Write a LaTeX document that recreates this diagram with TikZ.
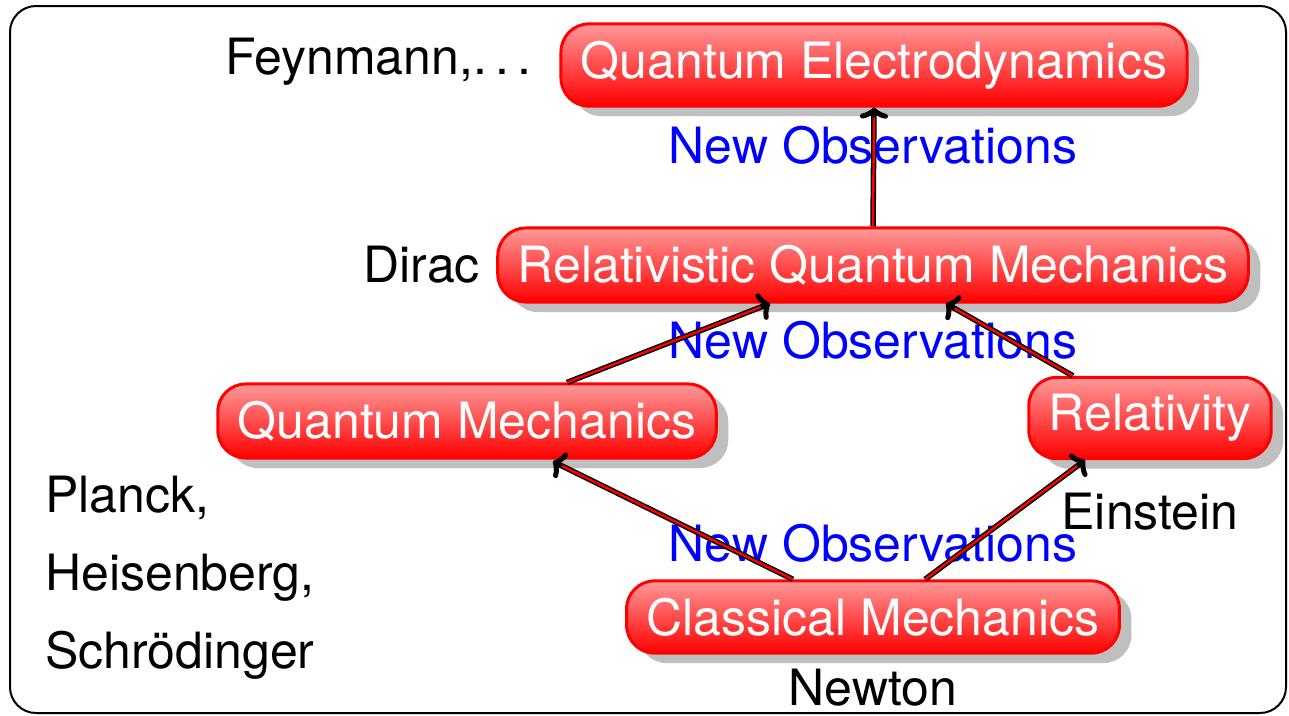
\documentclass[tikz,border=0pt]{standalone}
\usepackage{fontspec}
\setmainfont{TeX Gyre Heros}
\usetikzlibrary{arrows.meta,shadows,calc}
\begin{document}
\begin{tikzpicture}[x=1pt,y=-1pt,
  every node/.style={font=\fontsize{50}{78}\selectfont},
  box/.style={draw=red, line width=3pt, rounded corners=28pt,
    top color=red!40, middle color=red!85, bottom color=red,
    text=white, inner xsep=20pt, inner ysep=17pt,
    drop shadow={shadow xshift=12pt, shadow yshift=-10pt, opacity=1, fill=gray!50}},
  lbl/.style={text=black, inner sep=0pt},
  obs/.style={text=blue, inner sep=0pt},
  arr/.style={draw=black, line width=5.5pt,
    -{Classical TikZ Rightarrow[length=11pt,width=28pt,line width=5pt,round]},
    postaction={draw=red, line width=2.4pt, -, shorten >=10pt}}
]
\useasboundingbox (0,0) rectangle (1289,715);
\draw[line width=2pt, rounded corners=26pt] (10,6) rectangle (1286,713);

\node[box] (qed) at (874,65) {Quantum Electrodynamics};
\node[box] (rqm) at (873,265) {Relativistic Quantum Mechanics};
\node[box] (qm) at (467,421) {Quantum Mechanics};
\node[box] (rel) at (1150,418) {Relativity};
\node[box] (cm) at (873,617) {Classical Mechanics};

\node[lbl, anchor=east] (feyn) at (532,62) {Feynmann,.\hspace{0.17em}.\hspace{0.17em}.};
\node[lbl, anchor=east] (dirac) at (480,265) {Dirac};
\node[lbl] (einstein) at (1150,512) {Einstein};
\node[lbl] (newton) at (873,688) {Newton};
\node[lbl, anchor=west, align=left] (planck) at (45,578) {Planck,\\Heisenberg,\\Schrödinger};

\node[obs] (o1) at (873,145) {New Observations};
\node[obs] (o2) at (873,340) {New Observations};
\node[obs] (o3) at (873,543) {New Observations};

\draw[arr] ($(cm.north)+(-80,0)$) -- ($(qm.south)+(86,2)$);
\draw[arr] ($(cm.north)+(52,0)$) -- ($(rel.south)+(-65,0)$);
\draw[arr] ($(qm.north)+(100,0)$) -- ($(rqm.south)+(-103,0)$);
\draw[arr] ($(rel.north)+(-77,0)$) -- ($(rqm.south)+(73,0)$);
\draw[arr] (rqm.north) -- (qed.south);
\end{tikzpicture}
\end{document}
